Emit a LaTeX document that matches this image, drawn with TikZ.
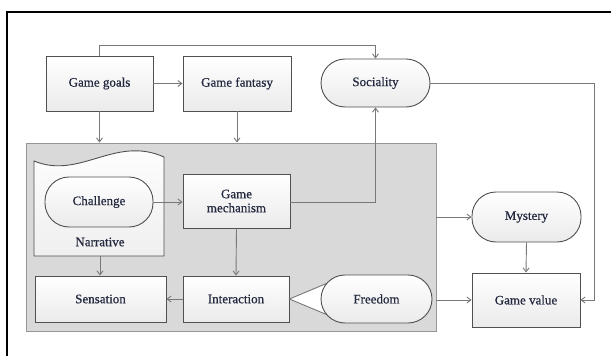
\documentclass[tikz,border=0pt]{standalone}
\usepackage{fontspec}
\setmainfont{Liberation Serif}[FakeBold=0.6]
\definecolor{ink}{RGB}{35,40,62}
\definecolor{edge}{RGB}{80,80,80}
\definecolor{wire}{RGB}{120,120,120}
\definecolor{panel}{RGB}{217,217,217}
\definecolor{paneledge}{RGB}{150,150,150}
\usepackage{tikz}
\usetikzlibrary{arrows.meta}

\begin{document}
\begin{tikzpicture}[x=1pt, y=-1pt,
    font=\fontsize{13}{15}\selectfont,
    box/.style={draw=edge, line width=0.9pt, top color=white, bottom color=black!8,
        inner sep=0pt, text=ink, align=center},
    pill/.style={box, rounded corners=24pt},
    flow/.style={draw=wire, line width=0.9pt, -{Straight Barb[length=4pt, width=6pt]}}]
    \useasboundingbox (0,0) rectangle (611,356);

    %% Outer frame (only top and left visible)
    \draw[line width=2pt, black] (611,12) -- (7,12) -- (7,356);

    %% Gray region
    \node[draw=paneledge, fill=panel, line width=0.9pt, minimum width=410pt, minimum height=188pt,
        inner sep=0pt] (core) at (231,237) {};

    %% Top row
    \node[box, minimum width=107pt, minimum height=55pt] (goals) at (99.5,83.5) {Game goals};
    \node[box, minimum width=108pt, minimum height=55pt] (fantasy) at (237,83.5) {Game fantasy};
    \node[pill, minimum width=109pt, minimum height=48pt] (sociality) at (375.5,83) {Sociality};

    %% Narrative document shape
    \draw[draw=edge, line width=0.9pt, top color=white, bottom color=black!6]
        (34,161) .. controls (80,180) and (115,135) .. (164,157) -- (164,256) -- (34,256) -- cycle;
    \node[text=ink] (narrative) at (100,242) {Narrative};
    \coordinate (narbot) at (100,256);

    %% Inner nodes
    \node[pill, minimum width=108pt, minimum height=50pt] (challenge) at (99,202) {Challenge};
    \node[box, minimum width=107pt, minimum height=54pt] (mech) at (236.5,201) {Game\\[-1pt]mechanism};
    \node[box, minimum width=106pt, minimum height=46pt] (interaction) at (236,299) {Interaction};
    \node[box, minimum width=131pt, minimum height=46pt] (sensation) at (100.5,299) {Sensation};

    %% Callout wedge of Freedom
    \draw[draw=wire, line width=0.9pt, fill=white] (interaction.east) -- (330,282) -- (330,316) -- cycle;
    \node[pill, minimum width=111pt, minimum height=48pt] (freedom) at (376.5,299) {Freedom};

    %% Right column
    \node[pill, minimum width=109pt, minimum height=50pt] (mystery) at (526.5,217) {Mystery};
    \node[box, minimum width=108pt, minimum height=54pt] (value) at (526,300) {Game value};

    \coordinate (topbar) at (0,45);
    \coordinate (rightbar) at (594,0);

    %% Connectors
    \draw[flow] (goals.north) -- (goals.north |- topbar) -| (sociality.north);
    \draw[flow] (goals.east) -- (fantasy.west);
    \draw[flow] (goals.south) -- (goals.south |- core.north);
    \draw[flow] (fantasy.south) -- (fantasy.south |- core.north);
    \draw[flow] (challenge.east) -- (mech.west |- challenge.east);
    \draw[flow] (mech.east |- challenge.east) -| (sociality.south);
    \draw[flow] (mech.south) -- (interaction.north);
    \draw[flow] (narbot) -- (narbot |- sensation.north);
    \draw[flow] (interaction.west) -- (sensation.east);
    \draw[flow] (core.east |- mystery.west) -- (mystery.west);
    \draw[flow] (core.east |- value.west) -- (value.west);
    \draw[flow] (mystery.south) -- (value.north);
    \draw[flow] (sociality.east) -| (rightbar |- value.east) -- (value.east);
\end{tikzpicture}
\end{document}
